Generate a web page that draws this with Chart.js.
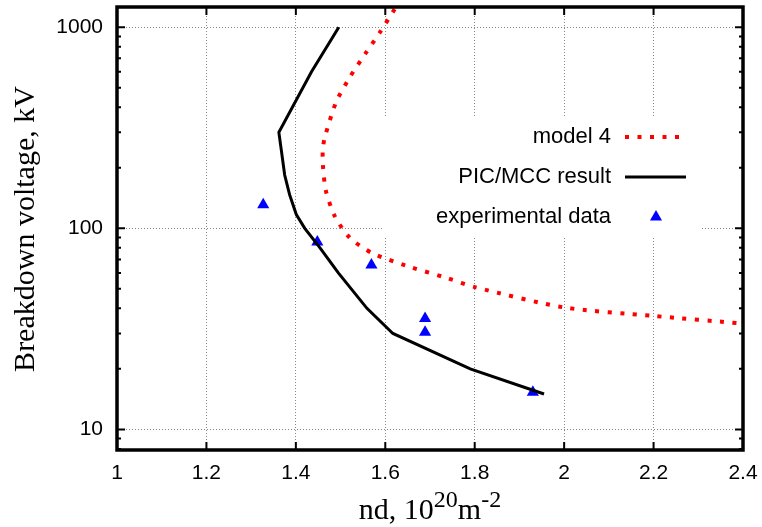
<!DOCTYPE html>
<html>
<head>
<meta charset="utf-8">
<script src="https://cdn.jsdelivr.net/npm/chart.js@4.4.0/dist/chart.umd.min.js"></script>
<style>
  html, body { margin: 0; padding: 0; background: #fff; }
</style>
</head>
<body>
<canvas id="myChart" width="762" height="527"></canvas>
<script>
// ---- data ----
var modelX = [1.621, 1.589, 1.555, 1.522, 1.490, 1.464, 1.460, 1.461, 1.467, 1.487, 1.520, 1.572, 1.658, 1.740, 1.800, 2.000, 2.198, 2.400];
var modelV = [1230, 950, 736, 570, 424, 279, 240, 199, 154, 115, 90, 75, 64, 56.4, 51, 40.4, 36.7, 33.6];

var picX = [1.496, 1.435, 1.362, 1.368, 1.375, 1.386, 1.401, 1.420, 1.454, 1.495, 1.559, 1.617, 1.790, 1.955];
var picV = [1000, 600, 300, 240, 184, 147, 117, 100, 80, 60, 40, 30, 20, 15];

var expX = [1.327, 1.448, 1.569, 1.689, 1.689, 1.930];
var expV = [131, 85.5, 65.6, 35.6, 30.4, 15.3];

var xTicks = [1, 1.2, 1.4, 1.6, 1.8, 2, 2.2, 2.4];
var yTicks = [10, 100, 1000];

function pairs(xs, ys) {
    return xs.map(function (x, i) { return { x: x, y: ys[i] }; });
}

//***********************************************************************************
// frame, inner tick marks, legend and axis titles
//***********************************************************************************
var gnuplotLook = {
    id: 'gnuplotLook',
    afterDatasetsDraw: function (chart) {
        var ctx = chart.ctx;
        var ds = chart.data.datasets;
        ctx.save();
        ctx.fillStyle = '#fff';
        ctx.fillRect(383, 117, 317, 121);
        ctx.font = '22px "Liberation Sans", Arial, sans-serif';
        ctx.textAlign = 'right';
        ctx.textBaseline = 'middle';
        ctx.fillStyle = '#000';
        var rows = [137, 177, 217];
        ds.forEach(function (d, i) {
            var y = rows[i];
            ctx.fillText(d.label, 611, y);
            if (d.showLine) {
                ctx.beginPath();
                ctx.strokeStyle = d.borderColor;
                ctx.lineWidth = d.borderWidth;
                ctx.setLineDash(d.borderDash || []);
                ctx.moveTo(625, y);
                ctx.lineTo(686, y);
                ctx.stroke();
                ctx.setLineDash([]);
            } else {
                var r = d.pointRadius;
                ctx.beginPath();
                ctx.fillStyle = d.backgroundColor;
                ctx.moveTo(656, y - r);
                ctx.lineTo(656 + r * 0.866, y + r / 2);
                ctx.lineTo(656 - r * 0.866, y + r / 2);
                ctx.closePath();
                ctx.fill();
                ctx.fillStyle = '#000';
            }
        });
        ctx.restore();
    },
    afterDraw: function (chart) {
        var ctx = chart.ctx;
        var a = chart.chartArea;
        var xs = chart.scales.x, ys = chart.scales.y;
        ctx.save();
        ctx.strokeStyle = '#000';

        // tick marks pointing inward
        ctx.lineWidth = 2;
        ctx.beginPath();
        xTicks.forEach(function (v) {
            var px = xs.getPixelForValue(v);
            ctx.moveTo(px, a.bottom); ctx.lineTo(px, a.bottom - 8);
            ctx.moveTo(px, a.top); ctx.lineTo(px, a.top + 8);
        });
        [1, 10, 100, 1000].forEach(function (dec) {
            for (var k = 1; k <= 9; k++) {
                var v = dec * k;
                if (v < ys.min || v > ys.max) continue;
                var py = ys.getPixelForValue(v);
                var len = (k === 1) ? 8 : 4;
                ctx.moveTo(a.left, py); ctx.lineTo(a.left + len, py);
                ctx.moveTo(a.right, py); ctx.lineTo(a.right - len, py);
            }
        });
        ctx.stroke();

        // frame
        ctx.lineWidth = 3.5;
        ctx.strokeRect(a.left, a.top, a.right - a.left, a.bottom - a.top);

        // y title
        ctx.fillStyle = '#000';
        ctx.font = '30px "Liberation Serif", "Times New Roman", serif';
        ctx.textBaseline = 'alphabetic';
        ctx.textAlign = 'center';
        ctx.save();
        ctx.translate(34, 229);
        ctx.rotate(-Math.PI / 2);
        ctx.fillText('Breakdown voltage, kV', 0, 0);
        ctx.restore();

        // x title with superscripts
        var big = '30px "Liberation Serif", "Times New Roman", serif';
        var small = '24px "Liberation Serif", "Times New Roman", serif';
        var parts = [
            { t: 'nd, 10', f: big, dy: 0 },
            { t: '20', f: small, dy: -12 },
            { t: 'm', f: big, dy: 0 },
            { t: '-2', f: small, dy: -12 }
        ];
        var total = 0;
        parts.forEach(function (p) { ctx.font = p.f; p.w = ctx.measureText(p.t).width; total += p.w; });
        var x0 = (a.left + a.right) / 2 - total / 2;
        ctx.textAlign = 'left';
        parts.forEach(function (p) {
            ctx.font = p.f;
            ctx.fillText(p.t, x0, 519 + p.dy);
            x0 += p.w;
        });
        ctx.restore();
    }
};

var ctx = document.getElementById('myChart').getContext('2d');

var myChart = new Chart(ctx, {
    type: 'scatter',
    data: {
        datasets: [{
            label: 'model 4',
            data: pairs(modelX, modelV),
            showLine: true,
            borderColor: '#ff0000',
            borderWidth: 4,
            borderDash: [4, 8.5],
            pointRadius: 0,
            tension: 0.25
        }, {
            label: 'PIC/MCC result',
            data: pairs(picX, picV),
            showLine: true,
            borderColor: '#000000',
            borderWidth: 3,
            pointRadius: 0,
            tension: 0
        }, {
            label: 'experimental data',
            data: pairs(expX, expV),
            showLine: false,
            pointStyle: 'triangle',
            pointRadius: 7,
            backgroundColor: '#0000ff',
            borderColor: '#0000ff',
            borderWidth: 0
        }]
    },
    options: {
        responsive: false,
        devicePixelRatio: 1,
        animation: false,
        layout: { padding: { top: 5, right: 19, left: 0, bottom: 0 } },
        plugins: {
            legend: { display: false },
            tooltip: { enabled: false }
        },
        scales: {
            x: {
                type: 'linear',
                min: 1,
                max: 2.4,
                afterFit: function (s) {
                    s.height = 77;
                    s.paddingLeft = 0; s.paddingRight = 0;
                    s.paddingTop = 0; s.paddingBottom = 0;
                },
                afterBuildTicks: function (s) { s.ticks = xTicks.map(function (v) { return { value: v }; }); },
                ticks: {
                    padding: 11,
                    color: '#000',
                    font: { family: '"Liberation Sans", Arial, sans-serif', size: 21 },
                    callback: function (v) { return String(Math.round(v * 10) / 10); }
                },
                grid: { color: '#888', lineWidth: 1, drawTicks: false },
                border: { display: false, dash: [1, 2] }
            },
            y: {
                type: 'logarithmic',
                min: 7.9,
                max: 1260,
                afterFit: function (s) {
                    s.width = 117;
                    s.paddingLeft = 0; s.paddingRight = 0;
                    s.paddingTop = 0; s.paddingBottom = 0;
                },
                afterBuildTicks: function (s) { s.ticks = yTicks.map(function (v) { return { value: v }; }); },
                ticks: {
                    padding: 14,
                    color: '#000',
                    font: { family: '"Liberation Sans", Arial, sans-serif', size: 21 },
                    callback: function (v) { return String(v); }
                },
                grid: { color: '#888', lineWidth: 1, drawTicks: false },
                border: { display: false, dash: [1, 2] }
            }
        }
    },
    plugins: [gnuplotLook]
});
</script>
</body>
</html>
